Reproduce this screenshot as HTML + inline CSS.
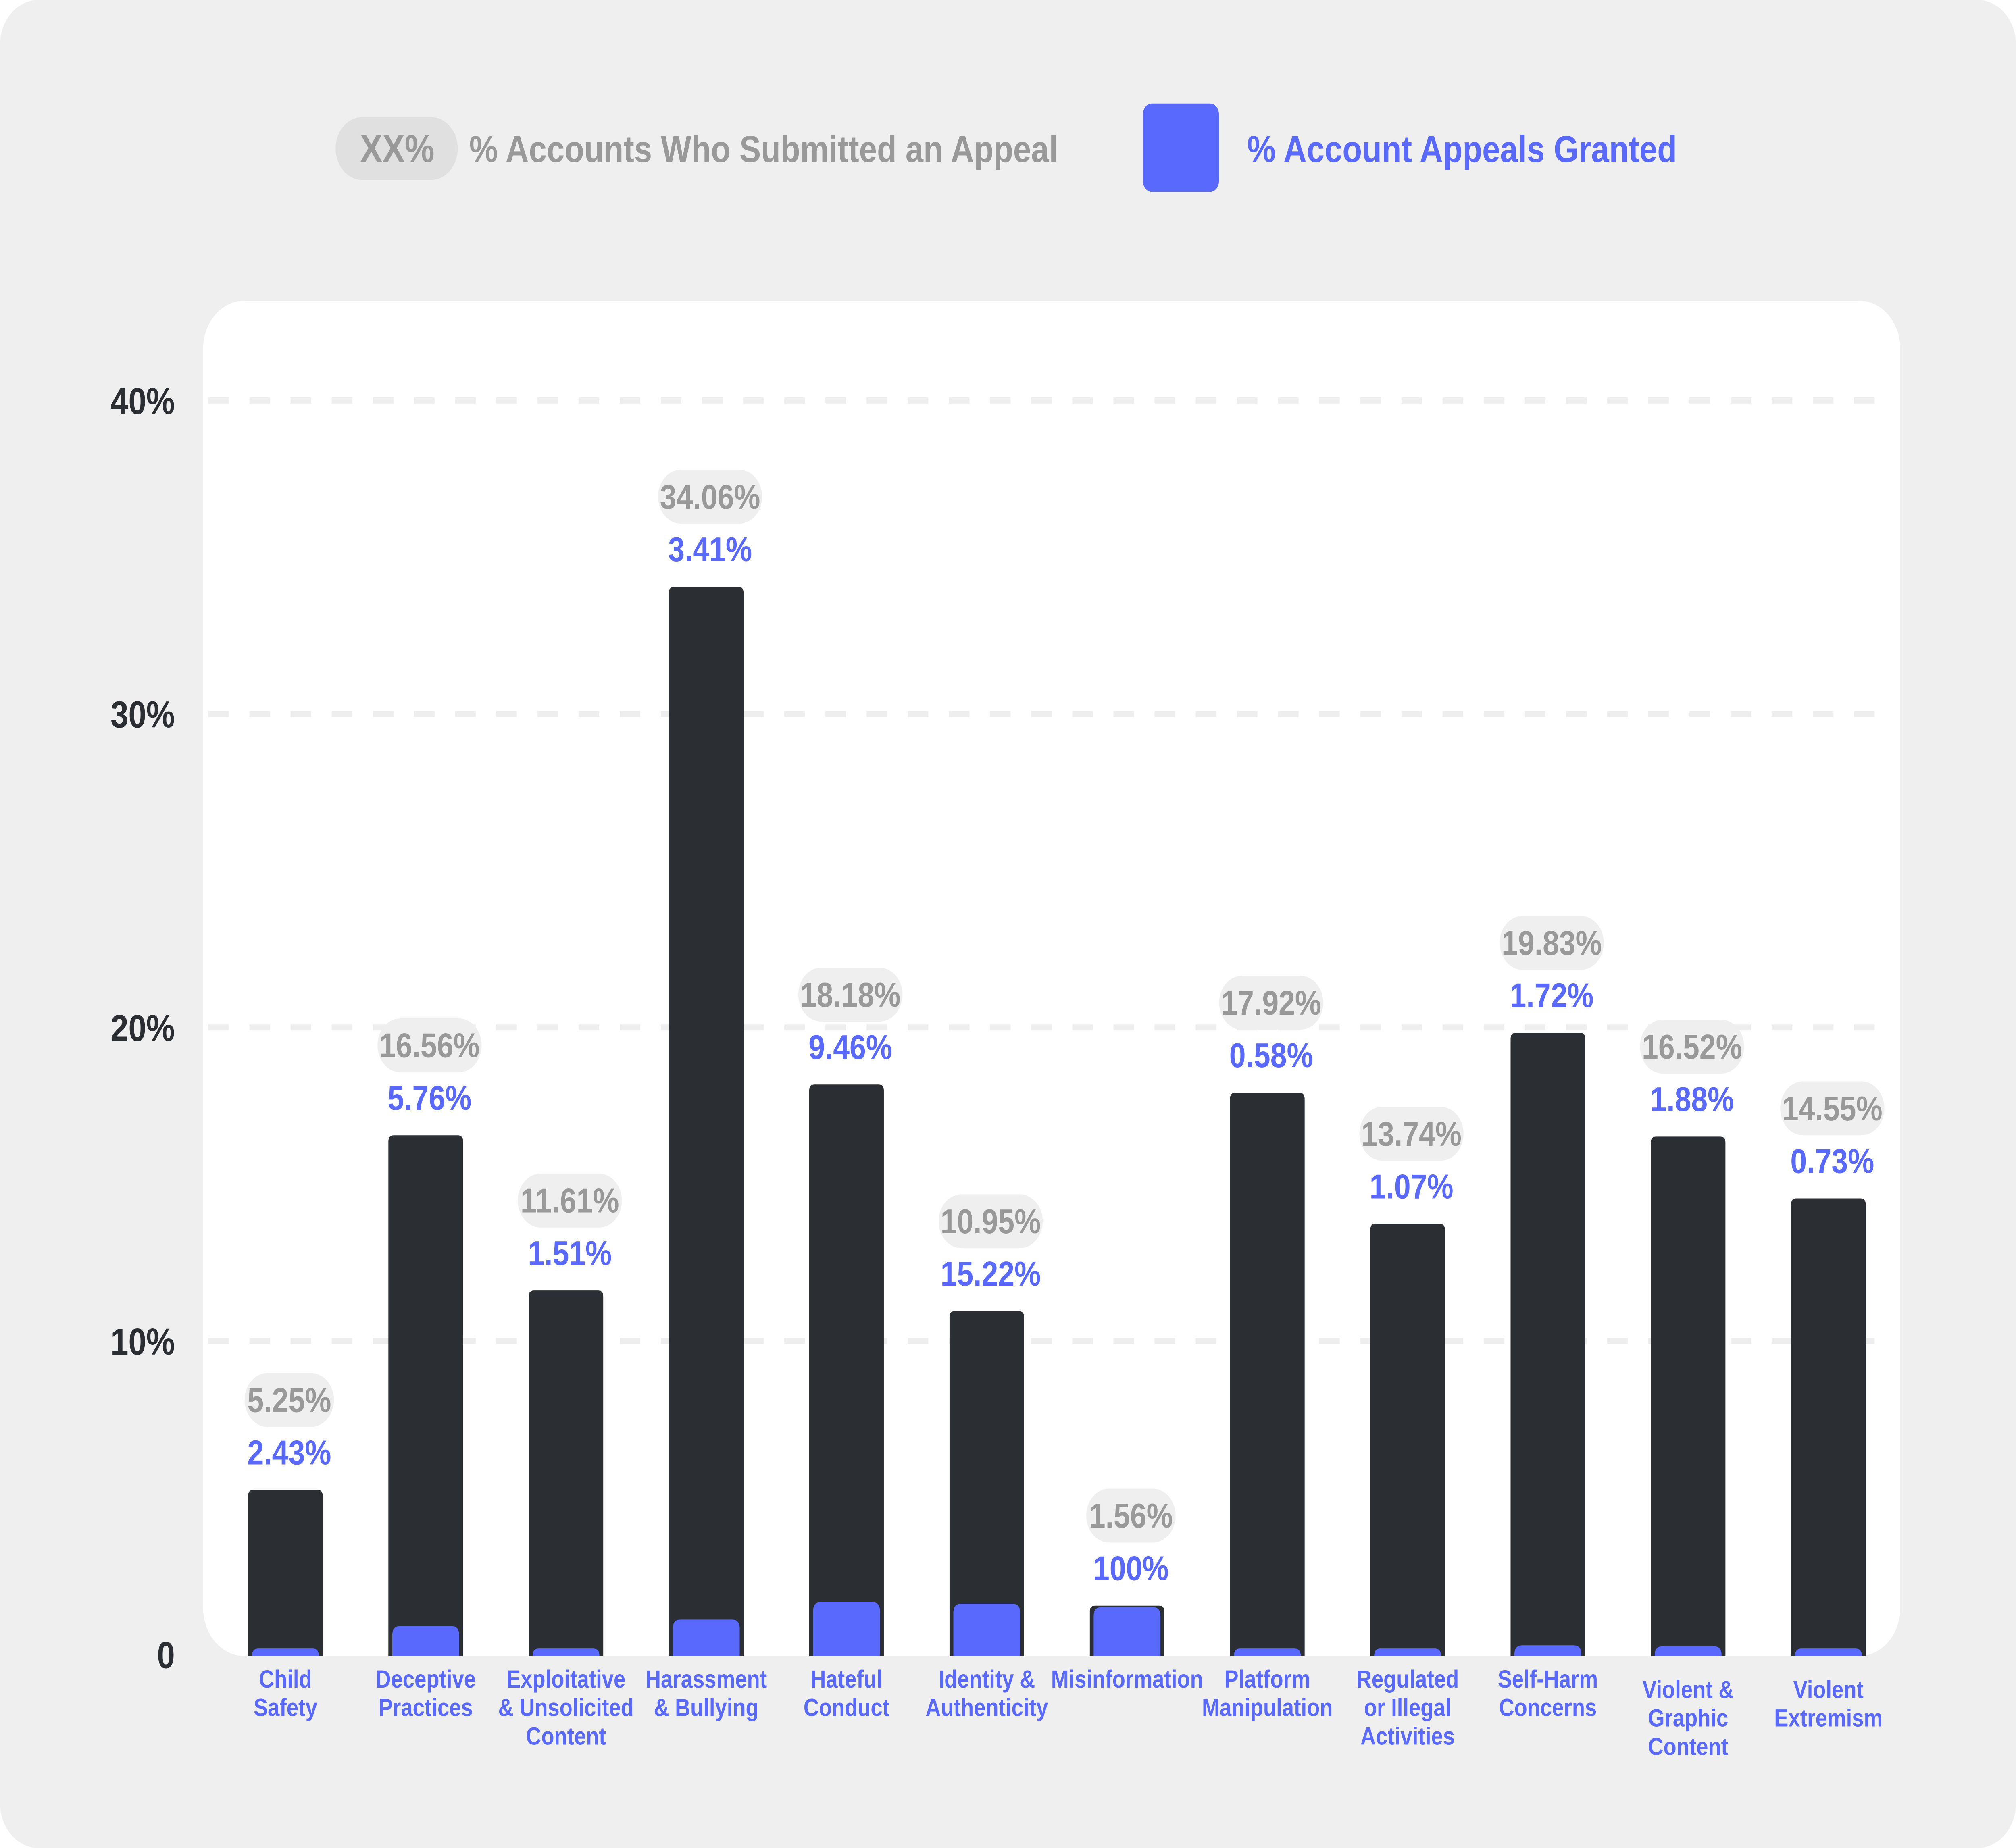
<!DOCTYPE html>
<html><head><meta charset="utf-8"><style>
html,body{margin:0;padding:0;background:#fff;overflow:hidden;width:100vw;height:100vh;}
svg{display:block;width:100vw;height:100vh;}
text{font-family:"Liberation Sans",sans-serif;font-weight:bold;}
</style></head><body>
<svg id="chart" viewBox="0 0 1568 1232" preserveAspectRatio="none" xmlns="http://www.w3.org/2000/svg">
<rect x="0" y="0" width="1568" height="1232" rx="30" fill="#efefef"/>
<rect x="158" y="200.5" width="1320" height="903.5" rx="32" fill="#ffffff"/>
<g>
<rect x="261" y="78" width="95" height="42" rx="21" fill="#e0e0e0"/>
<text x="309" y="108" font-size="26" fill="#999" text-anchor="middle">XX%</text>
<text x="365" y="108" font-size="25" fill="#999">% Accounts Who Submitted an Appeal</text>
<rect x="889" y="69" width="59" height="59" rx="7" fill="#5869fb"/>
<text x="970" y="108" font-size="25" fill="#5869fb">% Account Appeals Granted</text>
</g>
<g id="grid"></g>
<g id="bars"></g>
</svg>
<script>
const categories = [["Child","Safety"],["Deceptive","Practices"],["Exploitative","& Unsolicited","Content"],["Harassment","& Bullying"],["Hateful","Conduct"],["Identity &","Authenticity"],["Misinformation"],["Platform","Manipulation"],["Regulated","or Illegal","Activities"],["Self-Harm","Concerns"],["Violent &","Graphic","Content"],["Violent","Extremism"]];
const submitted = [5.25,16.56,11.61,34.06,18.18,10.95,1.56,17.92,13.74,19.83,16.52,14.55];
const granted = [2.43,5.76,1.51,3.41,9.46,15.22,100,0.58,1.07,1.72,1.88,0.73];
const labelShift = [0,0,0,0,0,0,0,0,0,0,7,7];
const yTicks = [0,10,20,30,40];
const yTickLabels = ["0","10%","20%","30%","40%"];

const NS="http://www.w3.org/2000/svg";
const y0=1103, pxPer=20.9;
function yScale(v){return y0 - v*pxPer;}
function xScale(i){return 222 + i*109.1;}
function mk(tag,attrs,parent){const e=document.createElementNS(NS,tag);for(const k in attrs)e.setAttribute(k,attrs[k]);parent.appendChild(e);return e;}
const grid=document.getElementById('grid'), bars=document.getElementById('bars');
yTicks.forEach((t,i)=>{
  const y=yScale(t);
  if(t>0){const l=mk('line',{x1:162,x2:1466,y1:y,y2:y,stroke:'#eeeeee','stroke-width':4,'stroke-dasharray':'16 16'},grid);
  
  }
  const tx=mk('text',{x:136,y:y+9,'font-size':25,fill:'#2b2e33','text-anchor':'end'},grid);
  tx.textContent=yTickLabels[i];
  
  
});
categories.forEach((c,i)=>{
  const cx=xScale(i), top=yScale(submitted[i]);
  const g=mk('g',{},bars);
  
  
  const r=mk('path',{d:`M${cx-29},${y0+1} V${top+4} Q${cx-29},${top} ${cx-25},${top} H${cx+25} Q${cx+29},${top} ${cx+29},${top+4} V${y0+1} Z`,fill:'#2b2e33'},g);
  
  
  const gv=submitted[i]*granted[i]/100;
  const bh=Math.max(gv*pxPer,5), bt=y0+1-bh, rr=Math.min(6,bh);
  const b=mk('path',{d:`M${cx-26},${y0+1} V${bt+rr} Q${cx-26},${bt} ${cx-26+rr},${bt} H${cx+26-rr} Q${cx+26},${bt} ${cx+26},${bt+rr} V${y0+1} Z`,fill:'#5869fb'},g);
  
  
  const pt=submitted[i].toFixed(2)+'%';
  const pw=pt.length*11.5+12;
  const p=mk('rect',{x:cx+3-pw/2,y:top-78,width:pw,height:36,rx:18,fill:'#efefef'},g);
  
  
  const st=mk('text',{x:cx+3,y:top-52,'font-size':23,fill:'#999','text-anchor':'middle'},g);
  st.textContent=pt;
  
  
  const gt=mk('text',{x:cx+3,y:top-17,'font-size':23,fill:'#5869fb','text-anchor':'middle'},g);
  gt.textContent=(granted[i]===100?'100':granted[i].toFixed(2))+'%';
  
  
  c.forEach((ln,j)=>{
    const t=mk('text',{x:cx,y:1125+labelShift[i]+j*19,'font-size':16.5,fill:'#5869fb','text-anchor':'middle'},g);
    t.textContent=ln;
    
    
  });
});
</script>
</body></html>
